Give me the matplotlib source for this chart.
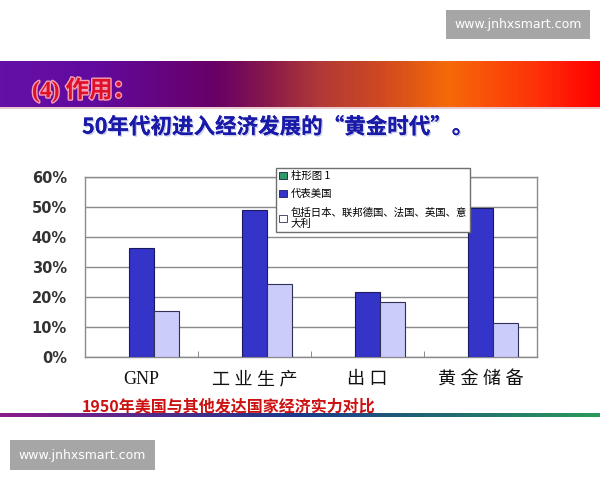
import numpy as np
import matplotlib
matplotlib.use('Agg')
import matplotlib.pyplot as plt
import matplotlib.patheffects as pe
from matplotlib.colors import LinearSegmentedColormap
from matplotlib.patches import Rectangle, Patch

plt.rcParams['font.family'] = ['Noto Sans CJK SC', 'DejaVu Sans']

# data
categories = ['GNP', '工业生产', '出口', '黄金储备']
series_names = ['柱形图 1', '代表美国', '包括日本、联邦德国、法国、英国、意\n大利']
empty_series = [np.nan, np.nan, np.nan, np.nan]
usa = [36.2, 48.8, 21.8, 49.7]
others = [15.4, 24.5, 18.5, 11.3]
y_ticks = [0, 10, 20, 30, 40, 50, 60]

W, H = 600, 480
fig = plt.figure(figsize=(6, 4.8), dpi=100)
fig.patch.set_facecolor('white')


def fx(px):
    return px / W


def fy(py):
    return 1 - py / H


# top banner gradient
banner_cmap = LinearSegmentedColormap.from_list('banner', [
    (0.0, '#6410a6'), (0.15, '#620aa0'), (0.36, '#680066'), (0.45, '#8a1a4a'),
    (0.53, '#b03838'), (0.64, '#d04a20'), (0.75, '#f56a08'), (0.9, '#ff3008'),
    (1.0, '#ff0000')])
ax_b = fig.add_axes([0, fy(106.7), 1, (106.7 - 61) / H])
ax_b.imshow(np.linspace(0, 1, 300)[None, :], aspect='auto', cmap=banner_cmap)
ax_b.axis('off')
fig.patches.append(Rectangle((0, fy(109)), 1, 2.3 / H, transform=fig.transFigure,
                             facecolor='#e8c8cc', edgecolor='none'))

fig.text(fx(32), fy(90), '(4) 作用：', fontsize=17, color='#e0102a', weight='bold',
         va='center', ha='left', family=['Liberation Serif', 'Noto Sans CJK SC'],
         path_effects=[pe.withStroke(linewidth=2, foreground='#f4a0b4')])

fig.text(fx(82), fy(127), '50年代初进入经济发展的“黄金时代”。', fontsize=15.5,
         color='#1a1aa8', weight='bold', va='center', ha='left',
         path_effects=[pe.withSimplePatchShadow(offset=(1, -1),
                                                shadow_rgbFace='#b4b8e4', alpha=0.7),
                       pe.Normal()])

# chart
ax = fig.add_axes([fx(85), fy(357.3), (537.3 - 85) / W, (357.3 - 176.7) / H])
x = np.arange(len(categories))
bw = 0.221
ax.bar(x - bw, empty_series, bw, color='#2e9a6a', edgecolor='#1a1a40',
       linewidth=0.8, label=series_names[0], zorder=3)
ax.bar(x, usa, bw, color='#3434c8', edgecolor='#1a1a60', linewidth=0.8,
       label=series_names[1], zorder=3)
ax.bar(x + bw, others, bw, color='#ccccfa', edgecolor='#30305a', linewidth=0.8,
       label=series_names[2], zorder=3)

ax.set_xlim(-0.5, len(categories) - 0.5)
ax.set_ylim(0, 60)
ax.set_yticks(y_ticks)
ax.set_yticklabels([f'{v}%' for v in y_ticks], fontsize=10.5, weight='bold',
                   family='DejaVu Sans', color='#333333')
ax.tick_params(axis='y', length=0, pad=13)
ax.grid(axis='y', color='#8a8a8a', linewidth=1, zorder=0)
for s in ax.spines.values():
    s.set_color('#8a8a8a')
    s.set_linewidth(1)

ax.set_xticks(x)
labels = [c if c.isascii() else ' '.join(c) for c in categories]
ax.set_xticklabels(labels, fontsize=13, family=['Liberation Serif', 'Noto Sans CJK SC'],
                   color='#111111')
ax.tick_params(axis='x', length=0, pad=10)
ax.set_xticks(x[:-1] + 0.5, minor=True)
ax.tick_params(axis='x', which='minor', direction='in', length=4, color='#777777')

handles = [Patch(facecolor='#2e9a6a', edgecolor='#1a1a40', linewidth=0.6),
           Patch(facecolor='#3434c8', edgecolor='#1a1a60', linewidth=0.6),
           Patch(facecolor='#ffffff', edgecolor='#30305a', linewidth=0.6)]
leg = fig.legend(handles, series_names, loc='upper left',
                 bbox_to_anchor=(fx(271), fy(163)), fontsize=7.5,
                 handlelength=0.7, handleheight=0.7, handletextpad=0.4,
                 labelspacing=0.75, borderpad=0.3, fancybox=False,
                 framealpha=1, edgecolor='#707070')
leg.get_frame().set_linewidth(1)
leg.set_zorder(10)

fig.text(fx(82), fy(406), '1950年美国与其他发达国家经济实力对比', fontsize=11.5,
         color='#cc1111', weight='bold', va='center', ha='left')

# bottom gradient line
line_cmap = LinearSegmentedColormap.from_list('line', [
    (0.0, '#8a1a8a'), (0.5, '#1a3a8a'), (1.0, '#2a9a5a')])
ax_l = fig.add_axes([0, fy(417.5), 1, 4.5 / H])
ax_l.imshow(np.linspace(0, 1, 300)[None, :], aspect='auto', cmap=line_cmap)
ax_l.axis('off')

# watermark boxes
for (x0, y0, x1, y1) in [(446, 10, 590, 39), (10, 440, 155, 470)]:
    fig.patches.append(Rectangle((fx(x0), fy(y1)), (x1 - x0) / W, (y1 - y0) / H,
                                 transform=fig.transFigure, facecolor='#a6a6a6',
                                 edgecolor='none'))
    fig.text(fx((x0 + x1) / 2), fy((y0 + y1) / 2), 'www.jnhxsmart.com', fontsize=9,
             color='white', family='DejaVu Sans', ha='center', va='center')

fig.savefig('out.png', dpi=100)
